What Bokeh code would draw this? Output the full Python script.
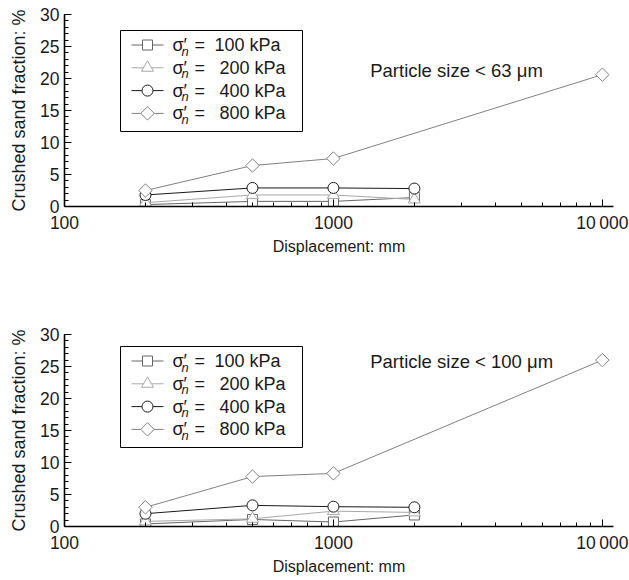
import numpy as np
from bokeh.plotting import figure
from bokeh.layouts import column
from bokeh.models import FixedTicker, Label, Range1d, LinearScale
from bokeh.core.properties import value
from bokeh.embed import file_html
from bokeh.resources import INLINE

# ---- data -------------------------------------------------------------
disp = [200, 500, 1000, 2000]          # displacement for 100/200/400 kPa
disp_800 = [200, 500, 1000, 10000]     # displacement for 800 kPa

stress_labels = ["100 kPa", "200 kPa", "400 kPa", "800 kPa"]

top_100 = [0.3, 0.8, 0.8, 1.4]
top_200 = [0.6, 1.8, 1.8, 1.1]
top_400 = [1.8, 2.9, 2.9, 2.8]
top_800 = [2.5, 6.4, 7.5, 20.6]

bot_100 = [0.4, 1.1, 0.7, 1.8]
bot_200 = [0.8, 1.2, 2.4, 2.2]
bot_400 = [2.0, 3.3, 3.1, 3.0]
bot_800 = [3.0, 7.8, 8.3, 26.0]

x_ticks = [100, 1000, 10000]
x_tick_labels = ["100", "1000", "10\u2009000"]
y_ticks = [0, 5, 10, 15, 20, 25, 30]

top_note = "Particle size < 63 μm"
bot_note = "Particle size < 100 μm"

FONT = "Liberation Sans"
FW, FH = 549, 192   # frame size in px

styles = [
    dict(marker="square", color="#666666", size=10, angle=0.0),
    dict(marker="triangle", color="#a8a8a8", size=12, angle=0.0),
    dict(marker="circle", color="#1a1a1a", size=11, angle=0.0),
    dict(marker="square", color="#808080", size=9.5, angle=np.pi / 4),
]


def make_fig(series, note, note_y, border_top, border_bottom, box_top):
    p = figure(
        x_axis_type="log",
        x_range=(100, 11000),
        y_range=(0, 30),
        frame_width=FW,
        frame_height=FH,
        min_border_left=64,
        min_border_right=16,
        min_border_top=border_top,
        min_border_bottom=border_bottom,
        output_backend="svg",
        toolbar_location=None,
    )
    # pixel-space ranges for the hand-drawn legend
    p.extra_x_ranges = {"px": Range1d(0, FW)}
    p.extra_x_scales = {"px": LinearScale()}
    p.extra_y_ranges = {"px": Range1d(0, FH)}

    p.outline_line_color = None
    p.xgrid.grid_line_color = None
    p.ygrid.grid_line_color = None

    xa = p.xaxis[0]
    xa.ticker = FixedTicker(
        ticks=x_ticks,
        minor_ticks=[200, 300, 400, 500, 600, 700, 800, 900,
                     2000, 3000, 4000, 5000, 6000, 7000, 8000, 9000],
    )
    xa.major_label_overrides = {t: l for t, l in zip(x_ticks, x_tick_labels)}
    xa.axis_label = "Displacement: mm"
    ya = p.yaxis[0]
    ya.ticker = FixedTicker(ticks=y_ticks, minor_ticks=list(range(0, 31)))
    ya.axis_label = "Crushed sand fraction: %"

    for ax in (xa, ya):
        ax.axis_line_color = "black"
        ax.axis_line_width = 1.6
        ax.major_tick_line_color = "black"
        ax.minor_tick_line_color = "black"
        ax.major_tick_in = 7
        ax.major_tick_out = 0
        ax.minor_tick_in = 4
        ax.minor_tick_out = 0
        ax.major_label_text_font = FONT
        ax.major_label_text_font_size = "17.5px"
        ax.major_label_text_color = "#1a1a1a"
        ax.axis_label_text_font = FONT
        ax.axis_label_text_font_style = "normal"
        ax.axis_label_text_color = "#1a1a1a"
    xa.axis_label_text_font_size = "16px"
    ya.axis_label_text_font_size = "18px"
    xa.major_label_standoff = 6
    ya.major_label_standoff = 5
    xa.axis_label_standoff = 2
    ya.axis_label_standoff = 8

    for i, (xs, ys) in enumerate(series):
        st = styles[i]
        p.line(xs, ys, line_color=st["color"], line_width=1)
        p.scatter(xs, ys, marker=st["marker"], size=st["size"], angle=st["angle"],
                  line_color=st["color"], fill_color="white", line_width=1)

    # ---- legend drawn in frame-pixel coordinates ----
    box_left, box_right, box_bottom = 56, 238, box_top - 101
    p.quad(left=[box_left], right=[box_right], top=[box_top], bottom=[box_bottom],
           fill_color="white", line_color="black", line_width=1,
           x_range_name="px", y_range_name="px")
    rows_y = [box_top - 14.5 - 22.8 * i for i in range(4)]
    for i, ry in enumerate(rows_y):
        st = styles[i]
        p.line([67, 99], [ry, ry], line_color=st["color"], line_width=1,
               x_range_name="px", y_range_name="px")
        p.scatter([83], [ry], marker=st["marker"], size=st["size"], angle=st["angle"],
                  line_color=st["color"], fill_color="white", line_width=1,
                  x_range_name="px", y_range_name="px")
    tx = dict(x_range_name="px", y_range_name="px", text_font=value(FONT),
              text_color="#1a1a1a", text_baseline="middle", text_align="left")
    p.text(x=[108] * 4, y=rows_y, text=["σ′"] * 4, text_font_size="18px", **tx)
    p.text(x=[117] * 4, y=[ry - 6 for ry in rows_y], text=["n"] * 4,
           text_font_size="13px", text_font_style="italic", **tx)
    p.text(x=[130] * 4, y=rows_y, text=["="] * 4, text_font_size="18px", **tx)
    p.text(x=[150, 155, 155, 155], y=rows_y, text=stress_labels,
           text_font_size="18px", **tx)

    p.add_layout(Label(x=1370, y=note_y, text=note, text_baseline="middle",
                       text_align="left", text_font=FONT, text_font_size="18.5px",
                       text_color="#1a1a1a"))
    return p


top = make_fig(
    [(disp, top_100), (disp, top_200), (disp, top_400), (disp_800, top_800)],
    top_note, 21.3, 14, 84, 176,
)
bot = make_fig(
    [(disp, bot_100), (disp, bot_200), (disp, bot_400), (disp_800, bot_800)],
    bot_note, 25.8, 44, 54, 180,
)

layout = column(top, bot, spacing=0)
open("out.html", "w").write(file_html(layout, INLINE))
